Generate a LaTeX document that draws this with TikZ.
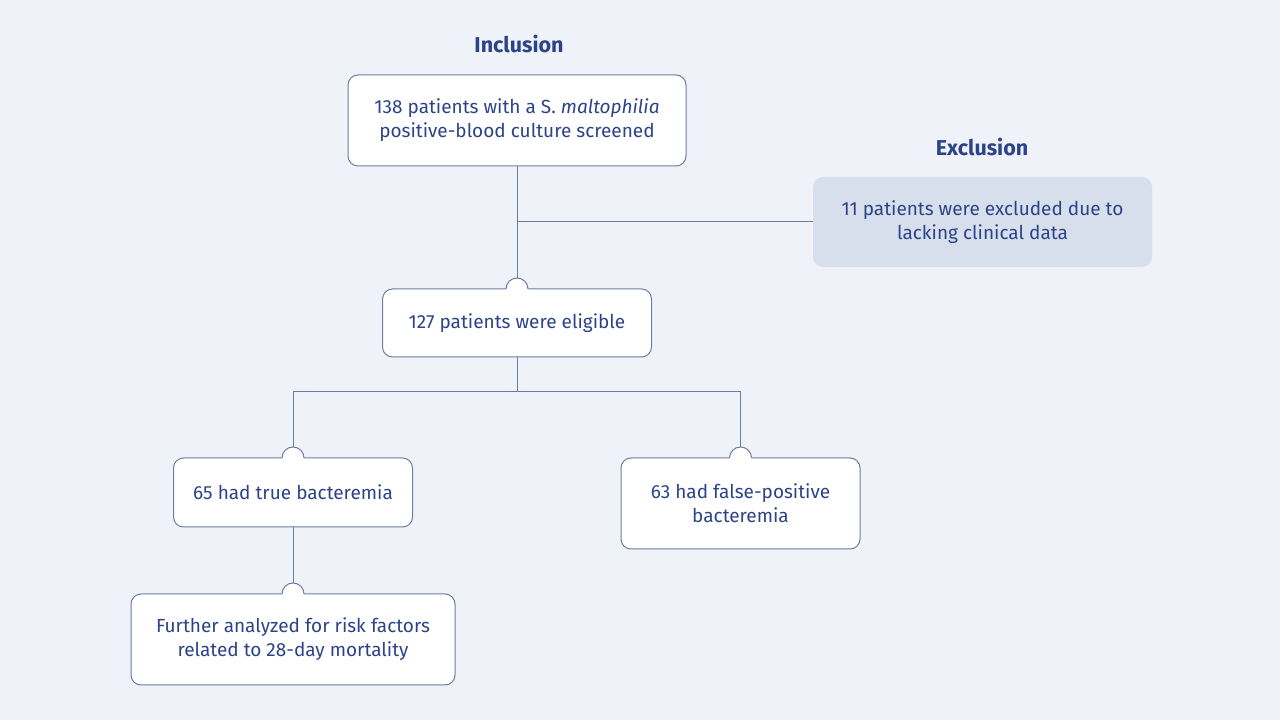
\documentclass[tikz,border=0pt]{standalone}
\usepackage{fontspec}
\setmainfont{Fira Sans}
\usepackage{xcolor}
\definecolor{bg}{HTML}{EFF3F9}
\definecolor{ink}{HTML}{2C4388}
\definecolor{edge}{HTML}{6C7EA2}
\definecolor{wire}{HTML}{6A7C9F}
\definecolor{exfill}{HTML}{D6DFEB}

\begin{document}
\begin{tikzpicture}[x=1pt,y=1pt,
box/.style={draw=edge,fill=white,line width=1pt,rounded corners=10pt,outer sep=0pt,inner sep=0pt,align=center,text=ink,font=\fontsize{19}{24}\selectfont},
head/.style={text=ink,font=\bfseries\fontsize{21.5}{24}\selectfont},
link/.style={draw=wire,line width=1pt}]
\useasboundingbox (0,0) rectangle (1280,720);
\fill[bg] (0,0) rectangle (1280,720);
\node[head] (inc) at (519,676) {Inclusion};
\node[head] (exc) at (982,573) {Exclusion};
\node[box,minimum width=338pt,minimum height=91pt] (screen) at (517,599.5) {138 patients with a S. \textit{maltophilia}\\positive-blood culture screened};
\node[box,draw=none,fill=exfill,minimum width=339pt,minimum height=90pt] (exclude) at (982.5,498) {11 patients were excluded due to\\lacking clinical data};
\node[box,minimum width=269pt,minimum height=68pt] (eligible) at (517,397) {127 patients were eligible};
\node[box,minimum width=239pt,minimum height=69pt] (true) at (293,227.5) {65 had true bacteremia};
\node[box,minimum width=239pt,minimum height=91pt] (false) at (740.5,216.5) {63 had false-positive\\bacteremia};
\node[box,minimum width=324pt,minimum height=91pt] (risk) at (293,80.5) {Further analyzed for risk factors\\related to 28-day mortality};
\coordinate (split) at (517,328);
\draw[link] (screen.south) -- (eligible.north);
\draw[link] (screen.south |- exclude.west) -- (exclude.west);
\draw[link] (eligible.south) -- (split) -| (true.north);
\draw[link] (split) -| (false.north);
\draw[link] (true.south) -- (risk.north);
\foreach \n in {eligible,true,false,risk}{
  \fill[white] ([xshift=-11pt]\n.north) arc[start angle=180,end angle=0,radius=11pt] -- ++(0,-1.5) -- ([xshift=-11pt,yshift=-1.5pt]\n.north) -- cycle;
  \draw[link] ([xshift=-11pt]\n.north) arc[start angle=180,end angle=0,radius=11pt];
}
\end{tikzpicture}
\end{document}
